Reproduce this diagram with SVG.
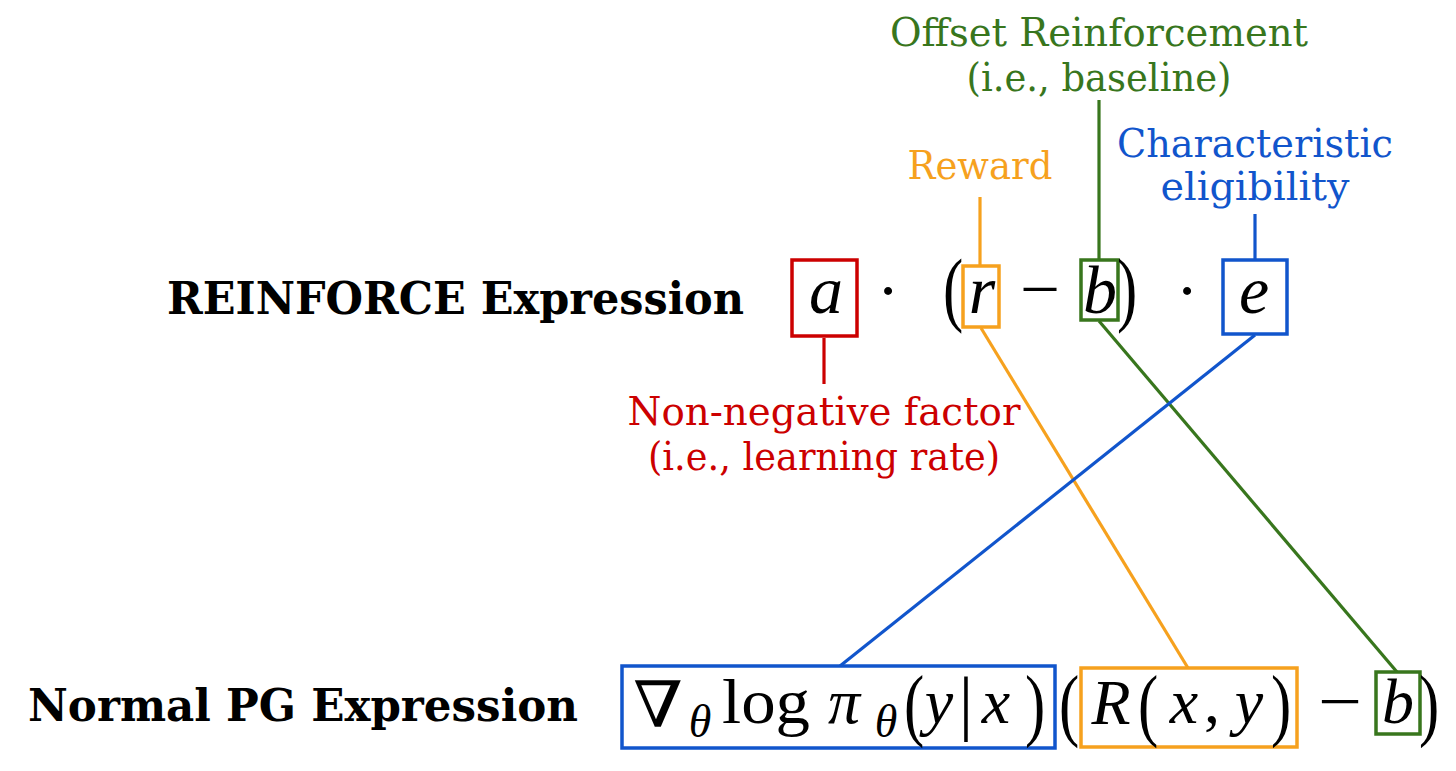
<svg xmlns="http://www.w3.org/2000/svg" width="1456" height="771" viewBox="0 0 1456 771">
<style>
.lbl{font-family:"DejaVu Serif","Liberation Serif",serif;font-size:40px;text-anchor:middle}
.head{font-family:"DejaVu Serif","Liberation Serif",serif;font-size:45px;font-weight:bold;fill:#000}
.m{font-family:"Liberation Serif","DejaVu Serif",serif;font-size:64px;fill:#000;text-anchor:middle}
.mi{font-family:"Liberation Serif","DejaVu Serif",serif;font-size:64px;font-style:italic;fill:#000;text-anchor:middle}
.t{font-size:68px}
.sub{font-family:"Liberation Serif","DejaVu Serif",serif;font-size:46px;font-style:italic;fill:#000;text-anchor:middle}
.box{fill:none;stroke-width:3.5}
.red{stroke:#cc0000}.org{stroke:#f6a11e}.grn{stroke:#38761d}.blu{stroke:#1155cc}
.conn path{fill:none;stroke-width:3.2}
</style>
<rect width="1456" height="771" fill="#fff"/>
<g id="connectors" class="conn">
<path class="red" d="M824 338 V384"/>
<path class="org" d="M980 197 V266"/>
<path class="org" d="M981 328 L1188 668"/>
<path class="grn" d="M1099 100 V260"/>
<path class="grn" d="M1099 321 L1397 672"/>
<path class="blu" d="M1255 214 V260"/>
<path class="blu" d="M1255 335 L840 666"/>
</g>
<g id="title-reinforce"><text class="head" x="167" y="314" textLength="577" lengthAdjust="spacingAndGlyphs">REINFORCE Expression</text></g>
<g id="title-pg"><text class="head" x="28" y="721" textLength="550" lengthAdjust="spacingAndGlyphs">Normal PG Expression</text></g>
<g id="label-offset" fill="#38761d">
<text class="lbl" x="1099" y="46" textLength="418" lengthAdjust="spacingAndGlyphs">Offset Reinforcement</text>
<text class="lbl" x="1099" y="91" textLength="265" lengthAdjust="spacingAndGlyphs">(i.e., baseline)</text>
</g>
<g id="label-reward" fill="#f6a11e"><text class="lbl" x="980" y="179" textLength="145" lengthAdjust="spacingAndGlyphs">Reward</text></g>
<g id="label-char" fill="#1155cc">
<text class="lbl" x="1255" y="157" textLength="276" lengthAdjust="spacingAndGlyphs">Characteristic</text>
<text class="lbl" x="1255" y="200" textLength="189" lengthAdjust="spacingAndGlyphs">eligibility</text>
</g>
<g id="label-nonneg" fill="#cc0000">
<text class="lbl" x="824" y="425" textLength="393" lengthAdjust="spacingAndGlyphs">Non-negative factor</text>
<text class="lbl" x="824" y="470" textLength="352" lengthAdjust="spacingAndGlyphs">(i.e., learning rate)</text>
</g>
<g id="reinforce-expr">
<g id="node-a"><rect class="box red" x="792" y="260" width="65" height="76"/><text class="mi t" x="826" y="313">a</text></g>
<text class="m t" x="888" y="313">·</text>
<text class="m" transform="translate(953,316) scale(0.95,1.3)">(</text>
<g id="node-r"><rect class="box org" x="963" y="266" width="36" height="61"/><text class="mi t" x="982" y="313">r</text></g>
<text class="m t" x="1040" y="312" textLength="40" lengthAdjust="spacingAndGlyphs">−</text>
<g id="node-b"><rect class="box grn" x="1081" y="260" width="37" height="60"/><text class="mi t" x="1100" y="313">b</text></g>
<text class="m" transform="translate(1127,316) scale(0.95,1.3)">)</text>
<text class="m t" x="1187" y="313">·</text>
<g id="node-e"><rect class="box blu" x="1223" y="260" width="64" height="74"/><text class="mi t" x="1254" y="313">e</text></g>
</g>
<g id="pg-expr">
<g id="node-grad"><rect class="box blu" x="622" y="666" width="433" height="82"/>
<text class="m" x="658" y="727" textLength="50" lengthAdjust="spacingAndGlyphs">∇</text>
<text class="sub" x="700" y="737">θ</text>
<text class="m" x="766" y="723" textLength="88" lengthAdjust="spacingAndGlyphs">log</text>
<text class="mi" x="844" y="723">π</text>
<text class="sub" x="886" y="737">θ</text>
<text class="m" transform="translate(914,731) scale(0.95,1.25)">(</text>
<text class="mi" x="939" y="723">y</text>
<text class="m" x="966" y="727" style="font-size:72px">|</text>
<text class="mi" x="996" y="723">x</text>
<text class="m" transform="translate(1035,731) scale(0.95,1.25)">)</text>
</g>
<text class="m" transform="translate(1069,731) scale(0.95,1.25)">(</text>
<g id="node-R"><rect class="box org" x="1081" y="668" width="216" height="79"/>
<text class="mi" x="1111" y="724">R</text>
<text class="m" transform="translate(1148,731) scale(0.95,1.25)">(</text>
<text class="mi" x="1184" y="723">x</text>
<text class="m" x="1212" y="723">,</text>
<text class="mi" x="1249" y="723">y</text>
<text class="m" transform="translate(1281,731) scale(0.95,1.25)">)</text>
</g>
<text class="m" x="1340" y="723" textLength="44" lengthAdjust="spacingAndGlyphs">−</text>
<g id="node-b2"><rect class="box grn" x="1376" y="672" width="44" height="62"/><text class="mi" x="1398" y="723">b</text></g>
<text class="m" transform="translate(1429,731) scale(0.95,1.25)">)</text>
</g>
</svg>
